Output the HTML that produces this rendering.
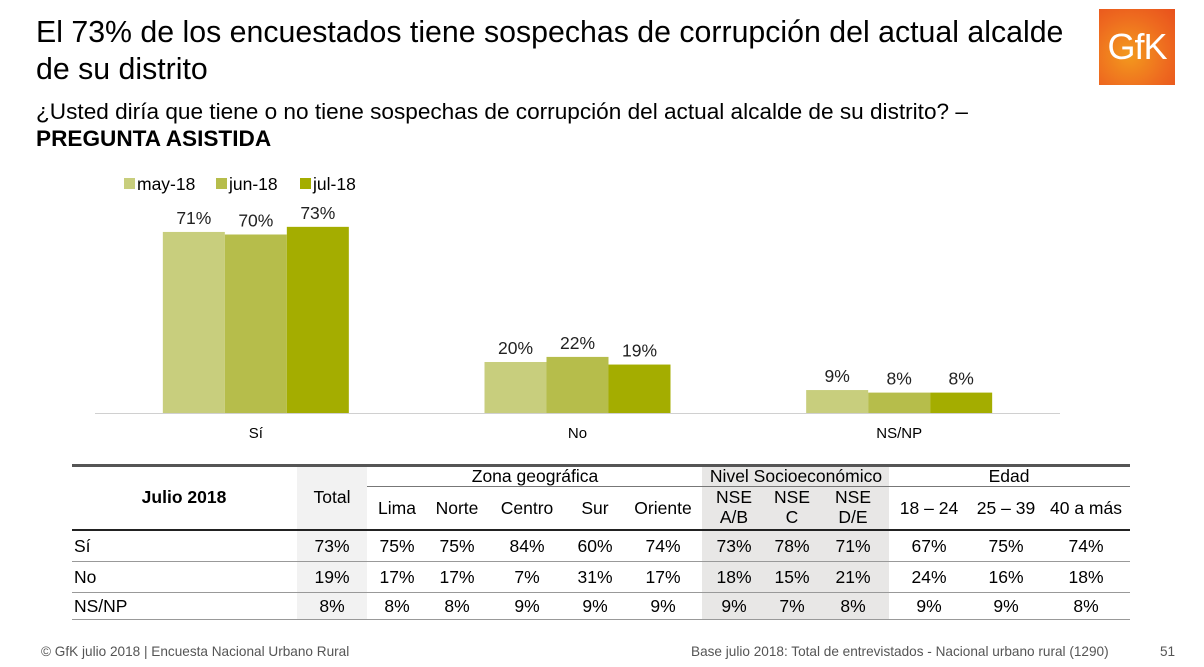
<!DOCTYPE html>
<html><head><meta charset="utf-8"><style>
body{margin:0;width:1204px;height:667px;background:#fff;font-family:"Liberation Sans",sans-serif;position:relative;overflow:hidden;color:#000}
.a{position:absolute;white-space:nowrap}
.c{position:absolute;text-align:center;font-size:17.5px;transform:translateX(-50%);white-space:nowrap}
</style></head><body>
<div class="a" style="left:36px;top:14px;font-size:30.3px;line-height:37px">El 73% de los encuestados tiene sospechas de corrupción del actual alcalde<br>de su distrito</div>
<div class="a" style="left:36px;top:98px;font-size:22.6px;line-height:27px">¿Usted diría que tiene o no tiene sospechas de corrupción del actual alcalde de su distrito? –<br><b>PREGUNTA ASISTIDA</b></div>
<div class="a" style="left:1099px;top:9px;width:76px;height:76px;background:radial-gradient(circle at 40% 60%,#f39a1e,#ee6a1f 60%,#e8501c);color:#fff;font-size:36px;line-height:76px;text-align:center;letter-spacing:-1px">GfK</div>
<svg class="a" style="left:0;top:0" width="1204" height="460">
<g id="chart"></g>
</svg>
<div id="tbl"></div>
<div class="a" style="left:41px;top:644px;font-size:13.6px;color:#555">© GfK julio 2018 | Encuesta Nacional Urbano Rural</div>
<div class="a" style="left:691px;top:644px;font-size:13.6px;color:#555">Base julio 2018: Total de entrevistados - Nacional urbano rural (1290)</div>
<div class="a" style="left:1160px;top:644px;font-size:13.6px;color:#555">51</div>
<script>
const categories=["Sí","No","NS/NP"];
const seriesNames=["may-18","jun-18","jul-18"];
const mayValues=[71,20,9];
const junValues=[70,22,8];
const julValues=[73,19,8];
const colors=["#c8ce7d","#b6bd4b","#a4ad00"];
const NS="http://www.w3.org/2000/svg";
const g=document.getElementById('chart');
const x0=95,x1=1060,base=413,k=2.55,bw=62;
const step=(x1-x0)/categories.length;
const xc=i=>x0+step*(i+0.5);
const y=v=>base-v*k;
function mk(t,at){const e=document.createElementNS(NS,t);for(const a in at)e.setAttribute(a,at[a]);g.appendChild(e);return e;}
const series=[mayValues,junValues,julValues];
series.forEach((vals,s)=>{vals.forEach((v,i)=>{
 const bx=xc(i)+(s-1.5)*bw;
 const r=mk('rect',{x:bx,y:y(v),width:bw,height:v*k,fill:colors[s]});
 
 
 const t=mk('text',{x:bx+bw/2,y:y(v)-8,'text-anchor':'middle','font-size':17.5,fill:'#222'});
 t.textContent=v+'%';
 
 
});});
const ax=mk('line',{x1:x0,x2:x1,y1:base+0.5,y2:base+0.5,stroke:'#d0d0d0'});


categories.forEach((c,i)=>{const t=mk('text',{x:xc(i),y:438,'text-anchor':'middle','font-size':15});t.textContent=c;
 
 });
const legX=[124,216,300];
seriesNames.forEach((n,s)=>{const r=mk('rect',{x:legX[s],y:178,width:11,height:11,fill:colors[s]});
 
 
 const t=mk('text',{x:legX[s]+13,y:190,'font-size':17.5});t.textContent=n;
 
 });

// table
const T=document.getElementById('tbl');
function box(css,html,name){const d=document.createElement('div');d.className='a';d.style.cssText=css;if(html)d.innerHTML=html;
 
 
 T.appendChild(d);return d;}
box('left:297px;top:466px;width:70px;height:154px;background:#f2f2f2','', 'total-shade');
box('left:702px;top:466px;width:187px;height:154px;background:#e8e7e6','', 'nse-shade');
box('left:72px;top:464px;width:1058px;height:3px;background:#555','', 'table-top-line');
box('left:367px;top:486px;width:763px;height:1px;background:#777','', 'group-line');
box('left:72px;top:529px;width:1058px;height:2px;background:#222','', 'header-line');
[561,592,619].forEach(yy=>box('left:72px;top:'+yy+'px;width:1058px;height:1px;background:#999','', 'row-line'));
const cols=[332,397,457,527,595,663,734,792,853,929,1006,1086];
const heads=["Total","Lima","Norte","Centro","Sur","Oriente","NSE<br>A/B","NSE<br>C","NSE<br>D/E","18 – 24","25 – 39","40 a más"];
const rowNames=["Sí","No","NS/NP"];
const rows=[[73,75,75,84,60,74,73,78,71,67,75,74],[19,17,17,7,31,17,18,15,21,24,16,18],[8,8,8,9,9,9,9,7,8,9,9,8]];
box('left:184px;top:487px;font-size:17.5px;font-weight:bold;transform:translateX(-50%)','Julio 2018','table-title');
box('left:535px;top:466px;font-size:17.5px;transform:translateX(-50%)','Zona geográfica','group-zona');
box('left:796px;top:466px;font-size:17.5px;transform:translateX(-50%)','Nivel Socioeconómico','group-nse');
box('left:1009px;top:466px;font-size:17.5px;transform:translateX(-50%)','Edad','group-edad');
heads.forEach((h,i)=>{let top=i==0?487:(h.includes('<br>')?487:498);const d=box('left:'+cols[i]+'px;top:'+top+'px;line-height:20px','', 'col-header');d.className='c';d.innerHTML=h;});
const rowY=[536,567,596];
rows.forEach((r,ri)=>{box('left:74px;top:'+rowY[ri]+'px;font-size:17.5px',rowNames[ri],'row-label');
 r.forEach((v,ci)=>{const d=box('left:'+cols[ci]+'px;top:'+rowY[ri]+'px','', 'cell');d.className='c';d.textContent=v+'%';});});
</script>
</body></html>
